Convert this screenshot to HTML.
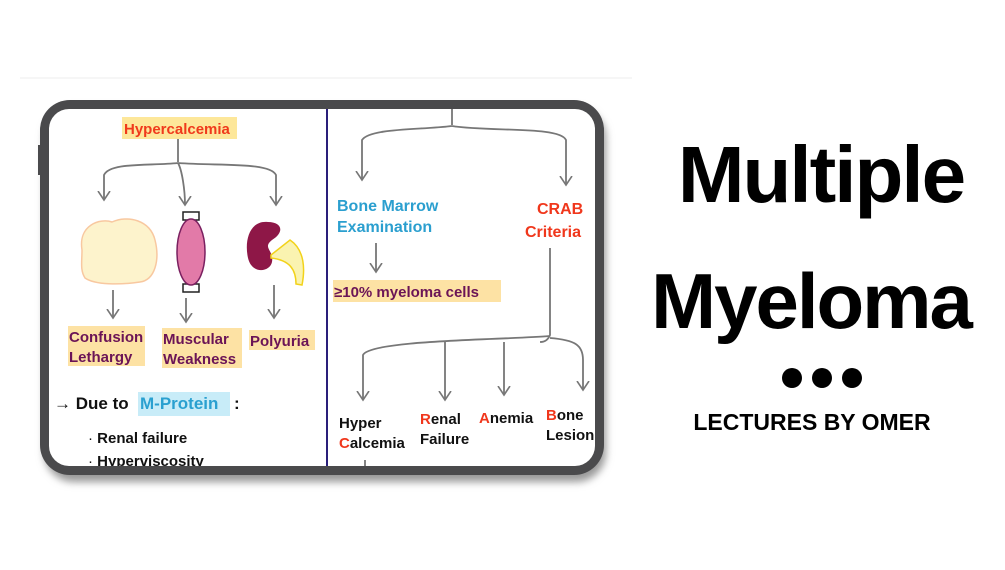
<!DOCTYPE html>
<html><head><meta charset="utf-8"><style>
html,body{margin:0;padding:0;background:#fff;}
body{width:1005px;height:565px;overflow:hidden;position:relative;font-family:"Liberation Sans",sans-serif;}
svg text{font-family:"Liberation Sans",sans-serif;}
</style></head><body>
<svg width="1005" height="565" viewBox="0 0 1005 565" xmlns="http://www.w3.org/2000/svg">
<defs>
<filter id="sh" x="-10%" y="-10%" width="120%" height="130%"><feGaussianBlur stdDeviation="4"/></filter>
<marker id="ah" markerWidth="12" markerHeight="14" refX="9" refY="7" orient="auto" markerUnits="userSpaceOnUse">
<path d="M0,1 L9,7 L0,13" fill="none" stroke="#777" stroke-width="1.6"/></marker>
<clipPath id="scr"><rect x="49" y="109" width="546" height="357" rx="20"/></clipPath>
</defs>
<line x1="20" y1="78" x2="632" y2="78" stroke="#eee" stroke-width="1"/>
<!-- tablet -->
<rect x="44" y="108" width="562" height="374" rx="30" fill="#999" filter="url(#sh)"/>
<rect x="40" y="100" width="564" height="375" rx="30" fill="#4a4a4c"/>
<rect x="49" y="109" width="546" height="357" rx="20" fill="#fff"/>
<rect x="38" y="145" width="4" height="30" fill="#4a4a4c"/>
<g clip-path="url(#scr)">
<line x1="327" y1="109" x2="327" y2="466" stroke="#2a1f7a" stroke-width="2"/>
<!-- left panel -->
<rect x="122" y="117" width="115" height="22" fill="#fde79a"/>
<text x="124" y="134" font-size="15" font-weight="bold" fill="#f03a1c">Hypercalcemia</text>
<g fill="none" stroke="#777" stroke-width="1.8">
<path d="M178,139 V162"/>
<path d="M178,163 C150,166 110,162 104,175 V200" marker-end="url(#ah)"/>
<path d="M178,163 C182,170 185,190 185,205" marker-end="url(#ah)"/>
<path d="M178,163 C220,166 270,162 276,175 V205" marker-end="url(#ah)"/>
<path d="M113,290 V318" marker-end="url(#ah)"/>
<path d="M186,298 V322" marker-end="url(#ah)"/>
<path d="M274,285 V318" marker-end="url(#ah)"/>
</g>
<path d="M82,250 C78,225 100,218 112,222 C128,215 150,220 155,240 C160,260 155,280 140,282 C120,285 95,285 85,278 C80,270 82,262 82,250Z" fill="#fdf3cc" stroke="#f8c8a0" stroke-width="1.5"/>
<path d="M183,212 h16 v8 h-16z M183,284 h16 v8 h-16z" fill="#fff" stroke="#222" stroke-width="1.5"/>
<ellipse cx="191" cy="252" rx="14" ry="33" fill="#e27aa8" stroke="#7a2060" stroke-width="1.5"/>
<path d="M268,222 C250,220 244,240 248,258 C252,275 270,272 272,262 C274,250 262,248 272,240 C285,232 282,222 268,222Z" fill="#8e1747"/>
<path d="M271,255 L290,240 C305,250 305,270 302,285 L296,284 C296,270 290,260 271,258Z" fill="#faf3b0" stroke="#f2d21a" stroke-width="1.5"/>
<rect x="68" y="326" width="77" height="40" fill="#fde2a4"/>
<text x="69" y="342" font-size="15" font-weight="bold" fill="#6b1456">Confusion</text>
<text x="69" y="362" font-size="15" font-weight="bold" fill="#6b1456">Lethargy</text>
<rect x="162" y="328" width="80" height="40" fill="#fde2a4"/>
<text x="163" y="344" font-size="15" font-weight="bold" fill="#6b1456">Muscular</text>
<text x="163" y="364" font-size="15" font-weight="bold" fill="#6b1456">Weakness</text>
<rect x="249" y="330" width="66" height="20" fill="#fde2a4"/>
<text x="250" y="346" font-size="15" font-weight="bold" fill="#6b1456">Polyuria</text>
<text x="54" y="409" font-size="17" fill="#111">→ <tspan font-weight="bold">Due to</tspan></text>
<rect x="138" y="392" width="92" height="24" fill="#c8ecf8"/>
<text x="140" y="409" font-size="17" font-weight="bold" fill="#2aa0d0">M-Protein</text>
<text x="234" y="409" font-size="17" font-weight="bold" fill="#111">:</text>
<text x="88" y="443" font-size="15" fill="#111">· <tspan font-weight="bold">Renal failure</tspan></text>
<text x="88" y="466" font-size="15" fill="#111">· <tspan font-weight="bold">Hyperviscosity</tspan></text>
<!-- right panel -->
<g fill="none" stroke="#777" stroke-width="1.8">
<path d="M452,109 V125"/>
<path d="M452,126 C420,130 370,128 362,140 V180" marker-end="url(#ah)"/>
<path d="M452,126 C490,132 560,126 566,140 V185" marker-end="url(#ah)"/>
<path d="M376,243 V272" marker-end="url(#ah)"/>
<path d="M550,248 V335 C548,340 545,342 540,342"/>
<path d="M550,336 C500,340 370,340 363,355 V400" marker-end="url(#ah)"/>
<path d="M445,342 V400" marker-end="url(#ah)"/>
<path d="M504,342 V395" marker-end="url(#ah)"/>
<path d="M550,338 C575,340 583,345 583,360 V390" marker-end="url(#ah)"/>
<path d="M365,460 V466"/>
</g>
<text x="337" y="211" font-size="16" font-weight="bold" fill="#2b9fcf">Bone Marrow</text>
<text x="337" y="232" font-size="16" font-weight="bold" fill="#2b9fcf">Examination</text>
<text x="537" y="214" font-size="16" font-weight="bold" fill="#f0371c">CRAB</text>
<text x="525" y="237" font-size="16" font-weight="bold" fill="#f0371c">Criteria</text>
<rect x="333" y="280" width="168" height="22" fill="#fde2a4"/>
<text x="334" y="297" font-size="15" font-weight="bold" fill="#6b1456">≥10% myeloma cells</text>
<g font-size="15" font-weight="bold" fill="#111">
<text x="339" y="428">Hyper</text>
<text x="339" y="448"><tspan fill="#f0371c">C</tspan>alcemia</text>
<text x="420" y="424"><tspan fill="#f0371c">R</tspan>enal</text>
<text x="420" y="444">Failure</text>
<text x="479" y="423"><tspan fill="#f0371c">A</tspan>nemia</text>
<text x="546" y="420"><tspan fill="#f0371c">B</tspan>one</text>
<text x="546" y="440">Lesion</text>
</g>
</g>
<!-- title -->
<text x="821" y="202" font-size="80" font-weight="bold" fill="#000" text-anchor="middle" letter-spacing="-2">Multiple</text>
<text x="811" y="328" font-size="78" font-weight="bold" fill="#000" text-anchor="middle" letter-spacing="-2">Myeloma</text>
<circle cx="792" cy="378" r="10" fill="#000"/><circle cx="822" cy="378" r="10" fill="#000"/><circle cx="852" cy="378" r="10" fill="#000"/>
<text x="812" y="430" font-size="23" font-weight="bold" fill="#000" text-anchor="middle">LECTURES BY OMER</text>
</svg>
</body></html>
